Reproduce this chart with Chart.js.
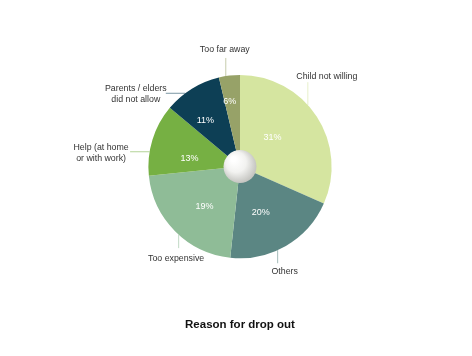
<!DOCTYPE html>
<html><head><meta charset="utf-8">
<script src="https://cdn.jsdelivr.net/npm/chart.js@4"></script>
<style>html,body{margin:0;padding:0;background:#fff}canvas{display:block}</style>
</head><body>
<canvas id="c" width="472" height="356"></canvas>
<script>
// ---- data ----
const categories = ["Child not willing", "Others", "Too expensive", "Help (at home\nor with work)", "Parents / elders\ndid not allow", "Too far away"];
const shares = [31.6, 20.1, 21.7, 12.7, 10.2, 3.7];
const percentLabels = ["31%", "20%", "19%", "13%", "11%", "6%"];
const titleText = "Reason for drop out";

// ---- styles ----
const colors = ["#d5e5a0", "#5b8683", "#8fbc97", "#76b043", "#0d3f55", "#97a268"];
const anchorAt = [0.42, 0.58, 0.46, 0.33, 0.36, 0.33];
const pctRadius = [0.48, 0.55, 0.58, 0.56, 0.63, 0.72];
// leader: dir v/h, end (fraction of R from centre, signed), text offset from line end
const leaders = [
  {dir: 'v', end: -0.922, tx: 19, ty: -6, align: 'center'},
  {dir: 'v', end: 1.055, tx: 7, ty: 8, align: 'center'},
  {dir: 'v', end: 0.89, tx: -2.5, ty: 10, align: 'center'},
  {dir: 'h', end: -1.20, tx: -29, ty: 1.8, align: 'center'},
  {dir: 'h', end: -0.81, tx: -30, ty: 1.2, align: 'center'},
  {dir: 'v', end: -1.186, tx: -1, ty: -8, align: 'center'}
];

function hexA(hex, a) {
  const n = parseInt(hex.slice(1), 16);
  return `rgba(${(n >> 16) & 255},${(n >> 8) & 255},${n & 255},${a})`;
}

const decor = {
  id: 'decor',
  afterDatasetsDraw(chart) {
    const ctx = chart.ctx;
    const arcs = chart.getDatasetMeta(0).data;
    const cx = arcs[0].x, cy = arcs[0].y, R = arcs[0].outerRadius;
    ctx.save();
    // centre sphere
    const sr = R * 0.18;
    const g = ctx.createRadialGradient(cx - sr * 0.4, cy - sr * 0.45, sr * 0.15, cx - sr * 0.1, cy - sr * 0.1, sr * 1.1);
    g.addColorStop(0, '#ffffff');
    g.addColorStop(0.5, '#f2f2f0');
    g.addColorStop(1, '#c4c4c0');
    ctx.beginPath();
    ctx.arc(cx, cy, sr, 0, Math.PI * 2);
    ctx.fillStyle = g;
    ctx.fill();

    arcs.forEach((arc, i) => {
      const a = arc.startAngle + anchorAt[i] * (arc.endAngle - arc.startAngle);
      // percent label
      ctx.font = '9px "Liberation Sans", Arial, sans-serif';
      ctx.fillStyle = '#ffffff';
      ctx.textAlign = 'center';
      ctx.textBaseline = 'middle';
      const pr = pctRadius[i] * R;
      ctx.fillText(percentLabels[i], cx + pr * Math.cos(a), cy + pr * Math.sin(a));
      // leader line
      const sx = cx + R * Math.cos(a), sy = cy + R * Math.sin(a);
      const L = leaders[i];
      let ex, ey;
      if (L.dir === 'v') { ex = sx; ey = cy + L.end * R; }
      else { ex = cx + L.end * R; ey = sy; }
      ctx.beginPath();
      ctx.moveTo(sx, sy);
      ctx.lineTo(ex, ey);
      ctx.strokeStyle = hexA(colors[i], 0.55);
      ctx.lineWidth = 1;
      ctx.stroke();
      // outer label
      ctx.font = '8.8px "Liberation Sans", Arial, sans-serif';
      ctx.fillStyle = '#333333';
      ctx.textAlign = L.align;
      const lines = categories[i].split('\n');
      const lh = 11;
      const tcx = ex + L.tx, tcy = ey + L.ty;
      const top = tcy - (lines.length - 1) * lh / 2;
      lines.forEach((t, k) => ctx.fillText(t, tcx, top + k * lh));
    });
    ctx.restore();
  }
};

new Chart(document.getElementById('c'), {
  type: 'pie',
  data: {
    labels: categories,
    datasets: [{
      data: shares,
      backgroundColor: colors,
      borderWidth: 0,
      hoverOffset: 0
    }]
  },
  options: {
    responsive: false,
    animation: false,
    layout: {padding: {left: 148, right: 140, top: 75, bottom: 14}},
    plugins: {
      legend: {display: false},
      tooltip: {enabled: false},
      title: {
        display: true,
        text: titleText,
        position: 'bottom',
        color: '#111111',
        font: {family: '"Liberation Sans", Arial, sans-serif', size: 11.5, weight: 'bold', lineHeight: 1.2},
        padding: {top: 60, bottom: 10}
      }
    }
  },
  plugins: [decor]
});
</script>
</body></html>
